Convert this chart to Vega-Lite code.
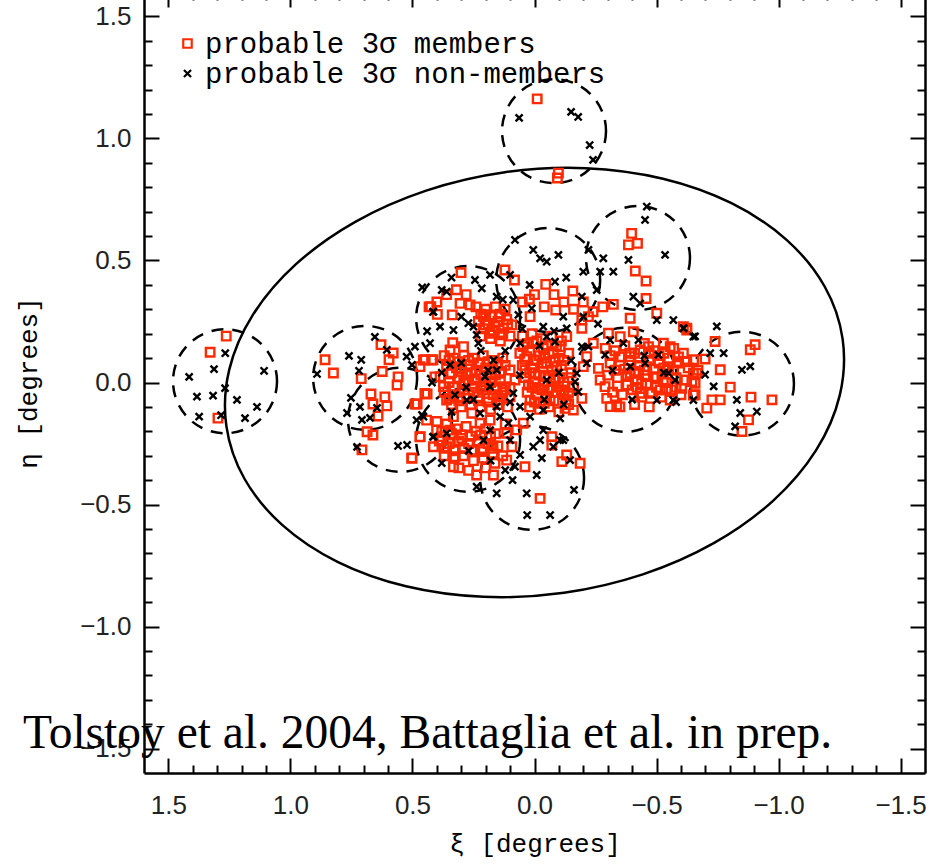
{
  "$schema": "https://vega.github.io/schema/vega-lite/v6.json",
  "width": 781,
  "height": 781,
  "autosize": "none",
  "padding": {"left": 144, "top": -8, "right": 12, "bottom": 91},
  "background": "white",
  "datasets": {
    "ellipse": [
      {"t":0,"x":1.2626,"y":-0.1775},{"t":15,"x":1.2509,"y":0.0516},{"t":30,"x":1.154,"y":0.2771},{"t":45,"x":0.9784,"y":0.4837},
      {"t":60,"x":0.7362,"y":0.6574},{"t":75,"x":0.4438,"y":0.7863},{"t":90,"x":0.1211,"y":0.8616},{"t":105,"x":-0.2098,"y":0.8781},
      {"t":120,"x":-0.5264,"y":0.835},{"t":135,"x":-0.8072,"y":0.7347},{"t":150,"x":-1.0328,"y":0.5845},{"t":165,"x":-1.1883,"y":0.3944},
      {"t":180,"x":-1.2626,"y":0.1775},{"t":195,"x":-1.2509,"y":-0.0516},{"t":210,"x":-1.154,"y":-0.2771},{"t":225,"x":-0.9784,"y":-0.4837},
      {"t":240,"x":-0.7362,"y":-0.6574},{"t":255,"x":-0.4438,"y":-0.7863},{"t":270,"x":-0.1211,"y":-0.8616},{"t":285,"x":0.2098,"y":-0.8781},
      {"t":300,"x":0.5264,"y":-0.835},{"t":315,"x":0.8072,"y":-0.7347},{"t":330,"x":1.0328,"y":-0.5845},{"t":345,"x":1.1883,"y":-0.3944}
    ],
    "fields": [
      {"x":1.268,"y":0.005},{"x":-0.08,"y":1.03},{"x":0.694,"y":0.019},{"x":0.551,"y":-0.153},{"x":0.272,"y":0.264},
      {"x":-0.056,"y":0.42},{"x":-0.424,"y":0.51},{"x":-0.371,"y":0.011},{"x":-0.85,"y":-0.005},{"x":0.01,"y":-0.391},{"x":0.272,"y":-0.235}
    ],
    "stars": [
      {"x":1.263,"y":0.19,"t":"m"},{"x":1.329,"y":0.124,"t":"m"},{"x":1.297,"y":-0.146,"t":"m"},
      {"x":-0.011,"y":1.162,"t":"m"},{"x":-0.098,"y":0.858,"t":"m"},{"x":-0.094,"y":0.838,"t":"m"},
      {"x":0.858,"y":0.093,"t":"m"},{"x":0.824,"y":0.039,"t":"m"},{"x":0.71,"y":0.016,"t":"m"},{"x":0.624,"y":0.045,"t":"m"},{"x":0.629,"y":0.155,"t":"m"},{"x":0.579,"y":0.121,"t":"m"},{"x":0.596,"y":0.093,"t":"m"},{"x":0.563,"y":-0.01,"t":"m"},{"x":0.559,"y":0.023,"t":"m"},{"x":0.67,"y":-0.047,"t":"m"},{"x":0.613,"y":-0.059,"t":"m"},{"x":0.605,"y":-0.096,"t":"m"},{"x":0.662,"y":-0.088,"t":"m"},{"x":0.641,"y":-0.137,"t":"m"},{"x":0.686,"y":-0.202,"t":"m"},{"x":0.662,"y":-0.215,"t":"m"},{"x":0.707,"y":-0.276,"t":"m"},{"x":0.502,"y":-0.309,"t":"m"},{"x":0.469,"y":-0.223,"t":"m"},{"x":0.481,"y":-0.088,"t":"m"},{"x":0.44,"y":-0.047,"t":"m"},{"x":0.448,"y":0.093,"t":"m"},{"x":0.416,"y":0.093,"t":"m"},{"x":0.408,"y":0.023,"t":"m"},{"x":0.432,"y":0.31,"t":"m"},
      {"x":0.301,"y":0.45,"t":"m"},{"x":0.121,"y":0.461,"t":"m"},{"x":0.082,"y":0.42,"t":"m"},{"x":-0.046,"y":0.402,"t":"m"},{"x":-0.157,"y":0.375,"t":"m"},{"x":-0.398,"y":0.611,"t":"m"},{"x":-0.385,"y":0.564,"t":"m"},{"x":-0.422,"y":0.57,"t":"m"},{"x":-0.413,"y":0.457,"t":"m"},{"x":-0.457,"y":0.416,"t":"m"},{"x":-0.323,"y":0.32,"t":"m"},{"x":-0.457,"y":0.344,"t":"m"},
      {"x":0.425,"y":0.311,"t":"m"},{"x":0.398,"y":0.279,"t":"m"},{"x":0.337,"y":0.277,"t":"m"},{"x":0.305,"y":0.324,"t":"m"},{"x":0.264,"y":0.318,"t":"m"},{"x":0.2,"y":0.277,"t":"m"},
      {"x":0.209,"y":0.27,"t":"m"},{"x":0.175,"y":0.277,"t":"m"},{"x":0.141,"y":0.27,"t":"m"},{"x":0.114,"y":0.258,"t":"m"},{"x":0.203,"y":0.236,"t":"m"},{"x":0.162,"y":0.229,"t":"m"},{"x":0.127,"y":0.222,"t":"m"},{"x":0.093,"y":0.236,"t":"m"},{"x":0.182,"y":0.202,"t":"m"},{"x":0.141,"y":0.195,"t":"m"},
      {"x":0.021,"y":0.341,"t":"m"},{"x":0.018,"y":0.27,"t":"m"},{"x":-0.087,"y":0.297,"t":"m"},{"x":-0.194,"y":0.256,"t":"m"},{"x":-0.194,"y":0.222,"t":"m"},{"x":-0.221,"y":0.27,"t":"m"},{"x":0.335,"y":0.163,"t":"m"},
      {"x":0.387,"y":0.024,"t":"m"},{"x":0.346,"y":0.038,"t":"m"},{"x":0.305,"y":0.058,"t":"m"},{"x":0.264,"y":0.072,"t":"m"},{"x":0.223,"y":0.079,"t":"m"},{"x":0.182,"y":0.051,"t":"m"},{"x":0.141,"y":0.038,"t":"m"},{"x":0.1,"y":0.051,"t":"m"},{"x":0.373,"y":-0.017,"t":"m"},{"x":0.332,"y":-0.017,"t":"m"},{"x":0.285,"y":-0.003,"t":"m"},{"x":0.244,"y":0.01,"t":"m"},{"x":0.203,"y":0.003,"t":"m"},{"x":0.162,"y":-0.017,"t":"m"},{"x":0.121,"y":-0.017,"t":"m"},{"x":0.08,"y":0.01,"t":"m"},{"x":0.36,"y":-0.072,"t":"m"},{"x":0.312,"y":-0.058,"t":"m"},{"x":0.271,"y":-0.051,"t":"m"},{"x":0.23,"y":-0.058,"t":"m"},{"x":0.189,"y":-0.065,"t":"m"},{"x":0.141,"y":-0.072,"t":"m"},{"x":0.1,"y":-0.058,"t":"m"},{"x":0.455,"y":0.092,"t":"m"},{"x":0.421,"y":0.092,"t":"m"},{"x":0.469,"y":0.065,"t":"m"},{"x":0.449,"y":-0.045,"t":"m"},{"x":0.49,"y":-0.088,"t":"m"},{"x":0.346,"y":0.133,"t":"m"},{"x":0.291,"y":0.147,"t":"m"},
      {"x":0.046,"y":0.147,"t":"m"},{"x":0.005,"y":0.161,"t":"m"},{"x":-0.036,"y":0.14,"t":"m"},{"x":-0.077,"y":0.126,"t":"m"},{"x":0.032,"y":0.106,"t":"m"},{"x":-0.009,"y":0.092,"t":"m"},{"x":-0.05,"y":0.079,"t":"m"},{"x":-0.091,"y":0.065,"t":"m"},{"x":0.039,"y":0.051,"t":"m"},{"x":-0.002,"y":0.038,"t":"m"},{"x":-0.043,"y":0.024,"t":"m"},{"x":-0.084,"y":0.01,"t":"m"},{"x":0.025,"y":-0.01,"t":"m"},{"x":-0.016,"y":-0.024,"t":"m"},{"x":-0.057,"y":-0.031,"t":"m"},{"x":-0.098,"y":-0.017,"t":"m"},{"x":0.018,"y":-0.072,"t":"m"},{"x":-0.023,"y":-0.085,"t":"m"},{"x":-0.064,"y":-0.072,"t":"m"},{"x":-0.139,"y":-0.044,"t":"m"},{"x":-0.125,"y":-0.106,"t":"m"},{"x":-0.159,"y":-0.113,"t":"m"},{"x":-0.194,"y":-0.065,"t":"m"},{"x":-0.105,"y":0.147,"t":"m"},{"x":-0.132,"y":0.188,"t":"m"},
      {"x":-0.269,"y":0.01,"t":"m"},{"x":-0.289,"y":-0.017,"t":"m"},{"x":-0.296,"y":-0.065,"t":"m"},{"x":-0.31,"y":-0.099,"t":"m"},{"x":-0.337,"y":-0.092,"t":"m"},{"x":-0.303,"y":0.202,"t":"m"},{"x":-0.351,"y":0.188,"t":"m"},{"x":-0.392,"y":0.263,"t":"m"},{"x":-0.405,"y":0.208,"t":"m"},{"x":-0.357,"y":0.106,"t":"m"},{"x":-0.392,"y":0.106,"t":"m"},{"x":-0.433,"y":0.133,"t":"m"},{"x":-0.467,"y":0.147,"t":"m"},{"x":-0.501,"y":0.284,"t":"m"},{"x":-0.528,"y":0.161,"t":"m"},{"x":-0.556,"y":0.147,"t":"m"},{"x":-0.59,"y":0.085,"t":"m"},{"x":-0.624,"y":0.085,"t":"m"},{"x":-0.651,"y":0.038,"t":"m"},{"x":-0.658,"y":-0.003,"t":"m"},{"x":-0.61,"y":0.229,"t":"m"},{"x":-0.624,"y":0.215,"t":"m"},{"x":-0.392,"y":0.038,"t":"m"},{"x":-0.426,"y":0.038,"t":"m"},{"x":-0.46,"y":0.065,"t":"m"},{"x":-0.487,"y":0.024,"t":"m"},{"x":-0.528,"y":0.01,"t":"m"},{"x":-0.542,"y":0.051,"t":"m"},{"x":-0.433,"y":-0.044,"t":"m"},{"x":-0.474,"y":-0.044,"t":"m"},{"x":-0.515,"y":-0.031,"t":"m"},{"x":-0.556,"y":-0.072,"t":"m"},{"x":-0.603,"y":-0.024,"t":"m"},{"x":-0.651,"y":-0.051,"t":"m"},{"x":-0.439,"y":-0.003,"t":"m"},{"x":-0.378,"y":-0.01,"t":"m"},{"x":-0.262,"y":0.058,"t":"m"},{"x":-0.214,"y":0.106,"t":"m"},{"x":-0.241,"y":0.161,"t":"m"},{"x":-0.2,"y":0.065,"t":"m"},
      {"x":0.503,"y":-0.311,"t":"m"},{"x":0.469,"y":-0.222,"t":"m"},{"x":0.442,"y":-0.154,"t":"m"},{"x":0.401,"y":-0.195,"t":"m"},{"x":0.414,"y":-0.263,"t":"m"},{"x":0.38,"y":-0.222,"t":"m"},{"x":0.36,"y":-0.263,"t":"m"},{"x":0.346,"y":-0.195,"t":"m"},{"x":0.332,"y":-0.14,"t":"m"},{"x":0.326,"y":-0.304,"t":"m"},{"x":0.332,"y":-0.345,"t":"m"},{"x":0.298,"y":-0.229,"t":"m"},{"x":0.291,"y":-0.27,"t":"m"},{"x":0.257,"y":-0.277,"t":"m"},{"x":0.216,"y":-0.283,"t":"m"},{"x":0.237,"y":-0.379,"t":"m"},{"x":0.175,"y":-0.27,"t":"m"},{"x":0.162,"y":-0.331,"t":"m"},{"x":0.168,"y":-0.379,"t":"m"},{"x":0.114,"y":-0.208,"t":"m"},{"x":0.093,"y":-0.263,"t":"m"},{"x":0.114,"y":-0.318,"t":"m"},{"x":0.073,"y":-0.194,"t":"m"},{"x":0.046,"y":-0.167,"t":"m"},{"x":0.257,"y":-0.126,"t":"m"},{"x":0.223,"y":-0.167,"t":"m"},{"x":0.182,"y":-0.154,"t":"m"},{"x":0.039,"y":-0.345,"t":"m"},{"x":-0.023,"y":-0.475,"t":"m"},{"x":-0.071,"y":-0.222,"t":"m"},{"x":-0.132,"y":-0.297,"t":"m"},{"x":-0.187,"y":-0.331,"t":"m"},{"x":-0.112,"y":-0.324,"t":"m"},{"x":-0.071,"y":-0.256,"t":"m"},
      {"x":-0.624,"y":0.223,"t":"m"},{"x":-0.74,"y":0.168,"t":"m"},{"x":-0.884,"y":0.134,"t":"m"},{"x":-0.904,"y":0.155,"t":"m"},{"x":-0.617,"y":0.086,"t":"m"},{"x":-0.652,"y":0.093,"t":"m"},{"x":-0.699,"y":0.096,"t":"m"},{"x":-0.761,"y":0.052,"t":"m"},{"x":-0.665,"y":0.038,"t":"m"},{"x":-0.645,"y":0.004,"t":"m"},{"x":-0.802,"y":-0.019,"t":"m"},{"x":-0.658,"y":-0.05,"t":"m"},{"x":-0.727,"y":-0.071,"t":"m"},{"x":-0.761,"y":-0.071,"t":"m"},{"x":-0.706,"y":-0.105,"t":"m"},{"x":-0.887,"y":-0.06,"t":"m"},{"x":-0.973,"y":-0.071,"t":"m"},{"x":-0.877,"y":-0.153,"t":"m"},{"x":-0.85,"y":-0.201,"t":"m"},
      {"x":0.37,"y":0.11,"t":"m"},{"x":0.33,"y":0.10,"t":"m"},{"x":0.29,"y":0.11,"t":"m"},{"x":0.25,"y":0.10,"t":"m"},{"x":0.21,"y":0.11,"t":"m"},{"x":0.17,"y":0.09,"t":"m"},{"x":0.13,"y":0.10,"t":"m"},
      {"x":0.36,"y":0.07,"t":"m"},{"x":0.32,"y":0.06,"t":"m"},{"x":0.28,"y":0.03,"t":"m"},{"x":0.24,"y":0.05,"t":"m"},{"x":0.20,"y":0.06,"t":"m"},{"x":0.16,"y":0.03,"t":"m"},{"x":0.12,"y":0.07,"t":"m"},
      {"x":0.35,"y":0.00,"t":"m"},{"x":0.31,"y":0.02,"t":"m"},{"x":0.27,"y":0.01,"t":"m"},{"x":0.22,"y":-0.02,"t":"m"},{"x":0.18,"y":0.00,"t":"m"},{"x":0.14,"y":0.01,"t":"m"},{"x":0.10,"y":-0.02,"t":"m"},
      {"x":0.37,"y":-0.04,"t":"m"},{"x":0.33,"y":-0.05,"t":"m"},{"x":0.29,"y":-0.03,"t":"m"},{"x":0.25,"y":-0.04,"t":"m"},{"x":0.21,"y":-0.03,"t":"m"},{"x":0.17,"y":-0.05,"t":"m"},{"x":0.13,"y":-0.04,"t":"m"},
      {"x":0.34,"y":-0.09,"t":"m"},{"x":0.30,"y":-0.10,"t":"m"},{"x":0.26,"y":-0.09,"t":"m"},{"x":0.22,"y":-0.10,"t":"m"},{"x":0.18,"y":-0.11,"t":"m"},{"x":0.15,"y":-0.09,"t":"m"},{"x":0.11,"y":-0.10,"t":"m"},
      {"x":0.05,"y":0.19,"t":"m"},{"x":0.01,"y":0.20,"t":"m"},{"x":-0.03,"y":0.18,"t":"m"},{"x":-0.07,"y":0.19,"t":"m"},{"x":-0.11,"y":0.17,"t":"m"},
      {"x":0.06,"y":0.12,"t":"m"},{"x":0.02,"y":0.13,"t":"m"},{"x":-0.02,"y":0.11,"t":"m"},{"x":-0.06,"y":0.12,"t":"m"},{"x":-0.10,"y":0.10,"t":"m"},{"x":-0.14,"y":0.12,"t":"m"},
      {"x":0.05,"y":0.07,"t":"m"},{"x":0.01,"y":0.06,"t":"m"},{"x":-0.03,"y":0.08,"t":"m"},{"x":-0.07,"y":0.05,"t":"m"},{"x":-0.11,"y":0.07,"t":"m"},{"x":-0.15,"y":0.04,"t":"m"},
      {"x":0.04,"y":0.02,"t":"m"},{"x":0.00,"y":0.00,"t":"m"},{"x":-0.04,"y":-0.01,"t":"m"},{"x":-0.08,"y":0.02,"t":"m"},{"x":-0.12,"y":0.00,"t":"m"},{"x":-0.16,"y":-0.02,"t":"m"},
      {"x":0.03,"y":-0.04,"t":"m"},{"x":-0.01,"y":-0.05,"t":"m"},{"x":-0.05,"y":-0.06,"t":"m"},{"x":-0.09,"y":-0.04,"t":"m"},{"x":-0.13,"y":-0.07,"t":"m"},
      {"x":0.02,"y":-0.10,"t":"m"},{"x":-0.02,"y":-0.11,"t":"m"},{"x":-0.06,"y":-0.10,"t":"m"},{"x":-0.10,"y":-0.12,"t":"m"},{"x":-0.14,"y":-0.09,"t":"m"},
      {"x":0.24,"y":0.31,"t":"m"},{"x":0.20,"y":0.30,"t":"m"},{"x":0.16,"y":0.31,"t":"m"},{"x":0.12,"y":0.30,"t":"m"},{"x":0.23,"y":0.25,"t":"m"},{"x":0.19,"y":0.24,"t":"m"},{"x":0.15,"y":0.25,"t":"m"},{"x":0.11,"y":0.24,"t":"m"},{"x":0.22,"y":0.19,"t":"m"},{"x":0.18,"y":0.18,"t":"m"},{"x":0.14,"y":0.17,"t":"m"},{"x":0.10,"y":0.19,"t":"m"},
      {"x":0.40,"y":-0.16,"t":"m"},{"x":0.36,"y":-0.17,"t":"m"},{"x":0.32,"y":-0.19,"t":"m"},{"x":0.28,"y":-0.18,"t":"m"},{"x":0.24,"y":-0.20,"t":"m"},{"x":0.20,"y":-0.19,"t":"m"},{"x":0.16,"y":-0.21,"t":"m"},{"x":0.12,"y":-0.17,"t":"m"},
      {"x":0.39,"y":-0.24,"t":"m"},{"x":0.35,"y":-0.25,"t":"m"},{"x":0.31,"y":-0.24,"t":"m"},{"x":0.27,"y":-0.25,"t":"m"},{"x":0.23,"y":-0.24,"t":"m"},{"x":0.19,"y":-0.25,"t":"m"},{"x":0.15,"y":-0.26,"t":"m"},
      {"x":0.37,"y":-0.30,"t":"m"},{"x":0.33,"y":-0.31,"t":"m"},{"x":0.29,"y":-0.30,"t":"m"},{"x":0.25,"y":-0.32,"t":"m"},{"x":0.21,"y":-0.31,"t":"m"},{"x":0.17,"y":-0.29,"t":"m"},{"x":0.13,"y":-0.30,"t":"m"},
      {"x":0.31,"y":-0.35,"t":"m"},{"x":0.27,"y":-0.36,"t":"m"},{"x":0.20,"y":-0.35,"t":"m"},
      {"x":-0.29,"y":0.14,"t":"m"},{"x":-0.33,"y":0.13,"t":"m"},{"x":-0.37,"y":0.15,"t":"m"},{"x":-0.41,"y":0.12,"t":"m"},{"x":-0.45,"y":0.16,"t":"m"},{"x":-0.49,"y":0.13,"t":"m"},{"x":-0.53,"y":0.12,"t":"m"},{"x":-0.57,"y":0.14,"t":"m"},{"x":-0.61,"y":0.12,"t":"m"},
      {"x":-0.31,"y":0.08,"t":"m"},{"x":-0.35,"y":0.07,"t":"m"},{"x":-0.39,"y":0.09,"t":"m"},{"x":-0.43,"y":0.07,"t":"m"},{"x":-0.47,"y":0.09,"t":"m"},{"x":-0.51,"y":0.08,"t":"m"},{"x":-0.55,"y":0.06,"t":"m"},{"x":-0.59,"y":0.08,"t":"m"},{"x":-0.63,"y":0.06,"t":"m"},{"x":-0.67,"y":0.05,"t":"m"},
      {"x":-0.30,"y":0.03,"t":"m"},{"x":-0.34,"y":0.02,"t":"m"},{"x":-0.38,"y":0.03,"t":"m"},{"x":-0.42,"y":0.01,"t":"m"},{"x":-0.46,"y":0.03,"t":"m"},{"x":-0.50,"y":0.02,"t":"m"},{"x":-0.54,"y":0.00,"t":"m"},{"x":-0.58,"y":0.02,"t":"m"},{"x":-0.62,"y":0.01,"t":"m"},
      {"x":-0.32,"y":-0.04,"t":"m"},{"x":-0.36,"y":-0.05,"t":"m"},{"x":-0.40,"y":-0.03,"t":"m"},{"x":-0.44,"y":-0.06,"t":"m"},{"x":-0.48,"y":-0.04,"t":"m"},{"x":-0.52,"y":-0.06,"t":"m"},{"x":-0.56,"y":-0.03,"t":"m"},{"x":-0.60,"y":-0.05,"t":"m"},
      {"x":-0.35,"y":-0.10,"t":"m"},{"x":-0.41,"y":-0.09,"t":"m"},{"x":-0.47,"y":-0.10,"t":"m"},
      {"x":0.40,"y":0.33,"t":"m"},{"x":0.36,"y":0.36,"t":"m"},{"x":0.32,"y":0.38,"t":"m"},{"x":0.28,"y":0.36,"t":"m"},{"x":0.05,"y":0.33,"t":"m"},{"x":0.00,"y":0.36,"t":"m"},{"x":-0.04,"y":0.31,"t":"m"},{"x":-0.08,"y":0.36,"t":"m"},{"x":-0.12,"y":0.33,"t":"m"},{"x":-0.16,"y":0.30,"t":"m"},{"x":-0.20,"y":0.33,"t":"m"},{"x":-0.24,"y":0.29,"t":"m"},{"x":-0.28,"y":0.31,"t":"m"},
      {"x":0.35,"y":0.09,"t":"m"},{"x":0.31,"y":0.085,"t":"m"},{"x":0.27,"y":0.09,"t":"m"},{"x":0.23,"y":0.08,"t":"m"},{"x":0.19,"y":0.085,"t":"m"},{"x":0.15,"y":0.08,"t":"m"},
      {"x":0.34,"y":0.04,"t":"m"},{"x":0.30,"y":0.045,"t":"m"},{"x":0.26,"y":0.04,"t":"m"},{"x":0.22,"y":0.03,"t":"m"},{"x":0.18,"y":0.04,"t":"m"},{"x":0.14,"y":0.045,"t":"m"},
      {"x":0.33,"y":-0.02,"t":"m"},{"x":0.29,"y":0.00,"t":"m"},{"x":0.25,"y":-0.015,"t":"m"},{"x":0.20,"y":-0.01,"t":"m"},{"x":0.16,"y":-0.03,"t":"m"},{"x":0.12,"y":-0.03,"t":"m"},
      {"x":0.35,"y":-0.065,"t":"m"},{"x":0.31,"y":-0.075,"t":"m"},{"x":0.27,"y":-0.065,"t":"m"},{"x":0.23,"y":-0.075,"t":"m"},{"x":0.19,"y":-0.08,"t":"m"},{"x":0.15,"y":-0.06,"t":"m"},
      {"x":0.03,"y":0.16,"t":"m"},{"x":-0.01,"y":0.17,"t":"m"},{"x":-0.05,"y":0.15,"t":"m"},{"x":-0.09,"y":0.15,"t":"m"},{"x":0.04,"y":0.095,"t":"m"},{"x":0.00,"y":0.09,"t":"m"},{"x":-0.04,"y":0.10,"t":"m"},{"x":-0.08,"y":0.085,"t":"m"},{"x":-0.12,"y":0.09,"t":"m"},{"x":0.02,"y":0.04,"t":"m"},{"x":-0.02,"y":0.03,"t":"m"},{"x":-0.06,"y":0.03,"t":"m"},{"x":-0.10,"y":0.02,"t":"m"},{"x":-0.14,"y":0.02,"t":"m"},{"x":0.01,"y":-0.02,"t":"m"},{"x":-0.03,"y":-0.03,"t":"m"},{"x":-0.07,"y":-0.02,"t":"m"},{"x":-0.11,"y":-0.03,"t":"m"},{"x":0.00,"y":-0.08,"t":"m"},{"x":-0.04,"y":-0.085,"t":"m"},{"x":-0.08,"y":-0.075,"t":"m"},{"x":-0.12,"y":-0.05,"t":"m"},
      {"x":0.38,"y":-0.20,"t":"m"},{"x":0.34,"y":-0.21,"t":"m"},{"x":0.30,"y":-0.215,"t":"m"},{"x":0.26,"y":-0.22,"t":"m"},{"x":0.22,"y":-0.215,"t":"m"},{"x":0.18,"y":-0.22,"t":"m"},{"x":0.37,"y":-0.27,"t":"m"},{"x":0.33,"y":-0.28,"t":"m"},{"x":0.29,"y":-0.27,"t":"m"},{"x":0.25,"y":-0.28,"t":"m"},{"x":0.21,"y":-0.27,"t":"m"},{"x":0.17,"y":-0.26,"t":"m"},
      {"x":-0.31,"y":0.11,"t":"m"},{"x":-0.35,"y":0.105,"t":"m"},{"x":-0.39,"y":0.12,"t":"m"},{"x":-0.43,"y":0.10,"t":"m"},{"x":-0.47,"y":0.12,"t":"m"},{"x":-0.51,"y":0.11,"t":"m"},{"x":-0.55,"y":0.10,"t":"m"},{"x":-0.59,"y":0.105,"t":"m"},{"x":-0.33,"y":0.05,"t":"m"},{"x":-0.37,"y":0.055,"t":"m"},{"x":-0.41,"y":0.045,"t":"m"},{"x":-0.45,"y":0.05,"t":"m"},{"x":-0.49,"y":0.055,"t":"m"},{"x":-0.53,"y":0.06,"t":"m"},{"x":-0.57,"y":0.05,"t":"m"},{"x":-0.34,"y":-0.015,"t":"m"},{"x":-0.38,"y":-0.01,"t":"m"},{"x":-0.42,"y":-0.02,"t":"m"},{"x":-0.46,"y":-0.01,"t":"m"},{"x":-0.50,"y":-0.02,"t":"m"},{"x":-0.54,"y":-0.025,"t":"m"},{"x":-0.58,"y":-0.02,"t":"m"},
      {"x":0.22,"y":0.28,"t":"m"},{"x":0.18,"y":0.27,"t":"m"},{"x":0.14,"y":0.28,"t":"m"},{"x":0.21,"y":0.22,"t":"m"},{"x":0.17,"y":0.21,"t":"m"},{"x":0.13,"y":0.20,"t":"m"},
      {"x":1.267,"y":0.12,"t":"n"},{"x":1.313,"y":0.055,"t":"n"},{"x":1.415,"y":0.023,"t":"n"},{"x":1.383,"y":-0.058,"t":"n"},{"x":1.317,"y":-0.054,"t":"n"},{"x":1.374,"y":-0.14,"t":"n"},{"x":1.284,"y":-0.134,"t":"n"},{"x":1.268,"y":-0.023,"t":"n"},{"x":1.219,"y":-0.071,"t":"n"},{"x":1.186,"y":-0.146,"t":"n"},{"x":1.137,"y":-0.1,"t":"n"},{"x":1.108,"y":0.048,"t":"n"},
      {"x":0.891,"y":0.035,"t":"n"},{"x":0.76,"y":0.109,"t":"n"},{"x":0.71,"y":0.093,"t":"n"},{"x":0.719,"y":0.048,"t":"n"},{"x":0.752,"y":-0.063,"t":"n"},{"x":0.715,"y":-0.1,"t":"n"},{"x":0.768,"y":-0.125,"t":"n"},{"x":0.707,"y":-0.153,"t":"n"},{"x":0.674,"y":-0.145,"t":"n"},{"x":0.645,"y":-0.104,"t":"n"},{"x":0.654,"y":0.187,"t":"n"},{"x":0.605,"y":0.134,"t":"n"},{"x":0.502,"y":0.072,"t":"n"},{"x":0.461,"y":-0.133,"t":"n"},{"x":0.522,"y":-0.256,"t":"n"},{"x":0.559,"y":-0.26,"t":"n"},{"x":0.727,"y":-0.264,"t":"n"},{"x":0.416,"y":0.289,"t":"n"},{"x":0.416,"y":-0.223,"t":"n"},
      {"x":-0.46,"y":0.721,"t":"n"},{"x":-0.453,"y":0.666,"t":"n"},{"x":-0.535,"y":0.523,"t":"n"},{"x":-0.385,"y":0.502,"t":"n"},{"x":-0.282,"y":0.509,"t":"n"},{"x":-0.221,"y":0.543,"t":"n"},{"x":-0.323,"y":0.454,"t":"n"},{"x":-0.269,"y":0.454,"t":"n"},{"x":-0.2,"y":0.454,"t":"n"},{"x":0.08,"y":0.584,"t":"n"},{"x":0.005,"y":0.543,"t":"n"},{"x":-0.023,"y":0.509,"t":"n"},{"x":-0.05,"y":0.495,"t":"n"},{"x":-0.098,"y":0.523,"t":"n"},{"x":0.1,"y":0.441,"t":"n"},{"x":0.182,"y":0.441,"t":"n"},{"x":0.216,"y":0.386,"t":"n"},{"x":0.244,"y":0.42,"t":"n"},{"x":0.38,"y":0.379,"t":"n"},{"x":0.36,"y":0.372,"t":"n"},{"x":0.155,"y":0.352,"t":"n"},{"x":0.087,"y":0.338,"t":"n"},{"x":0.011,"y":0.304,"t":"n"},{"x":-0.084,"y":0.413,"t":"n"},{"x":-0.194,"y":0.352,"t":"n"},{"x":-0.255,"y":0.379,"t":"n"},{"x":-0.405,"y":0.352,"t":"n"},{"x":-0.433,"y":0.324,"t":"n"},{"x":-0.501,"y":0.256,"t":"n"},{"x":-0.569,"y":0.256,"t":"n"},{"x":-0.61,"y":0.222,"t":"n"},{"x":-0.651,"y":0.188,"t":"n"},{"x":0.414,"y":0.29,"t":"n"},{"x":0.387,"y":0.229,"t":"n"},{"x":0.332,"y":0.215,"t":"n"},{"x":0.271,"y":0.243,"t":"n"},{"x":0.25,"y":0.229,"t":"n"},{"x":0.237,"y":0.195,"t":"n"},{"x":0.23,"y":0.161,"t":"n"},{"x":0.428,"y":0.161,"t":"n"},{"x":0.49,"y":0.147,"t":"n"},{"x":0.524,"y":0.106,"t":"n"},{"x":0.066,"y":0.277,"t":"n"},{"x":0.059,"y":0.161,"t":"n"},{"x":-0.036,"y":0.229,"t":"n"},{"x":-0.05,"y":0.188,"t":"n"},{"x":-0.084,"y":0.167,"t":"n"},{"x":-0.118,"y":0.27,"t":"n"},{"x":-0.132,"y":0.222,"t":"n"},{"x":-0.194,"y":0.147,"t":"n"},{"x":-0.214,"y":0.079,"t":"n"},{"x":-0.173,"y":0.038,"t":"n"},{"x":-0.166,"y":0.003,"t":"n"},{"x":-0.18,"y":-0.038,"t":"n"},{"x":-0.221,"y":0.147,"t":"n"},{"x":-0.289,"y":0.113,"t":"n"},{"x":-0.31,"y":0.174,"t":"n"},{"x":-0.364,"y":0.161,"t":"n"},{"x":-0.426,"y":0.174,"t":"n"},{"x":-0.392,"y":0.065,"t":"n"},{"x":-0.453,"y":0.079,"t":"n"},{"x":-0.508,"y":0.113,"t":"n"},{"x":-0.549,"y":0.038,"t":"n"},{"x":-0.576,"y":0.01,"t":"n"},{"x":-0.501,"y":-0.072,"t":"n"},{"x":-0.569,"y":-0.072,"t":"n"},{"x":-0.651,"y":-0.072,"t":"n"},{"x":0.346,"y":0.072,"t":"n"},{"x":0.168,"y":0.092,"t":"n"},{"x":0.155,"y":0.051,"t":"n"},{"x":0.203,"y":0.024,"t":"n"},{"x":0.182,"y":-0.017,"t":"n"},{"x":0.087,"y":-0.044,"t":"n"},{"x":0.326,"y":-0.051,"t":"n"},{"x":0.278,"y":-0.072,"t":"n"},{"x":0.223,"y":-0.126,"t":"n"},{"x":0.155,"y":-0.099,"t":"n"},{"x":0.141,"y":-0.14,"t":"n"},{"x":0.107,"y":-0.167,"t":"n"},{"x":0.182,"y":-0.195,"t":"n"},{"x":0.1,"y":-0.236,"t":"n"},{"x":0.209,"y":-0.236,"t":"n"},{"x":0.414,"y":-0.222,"t":"n"},{"x":0.455,"y":-0.14,"t":"n"},{"x":0.483,"y":-0.154,"t":"n"},{"x":0.36,"y":-0.208,"t":"n"},{"x":0.08,"y":-0.345,"t":"n"},{"x":0.005,"y":-0.263,"t":"n"},{"x":-0.023,"y":-0.236,"t":"n"},{"x":-0.036,"y":-0.195,"t":"n"},{"x":-0.077,"y":-0.263,"t":"n"},{"x":-0.118,"y":-0.236,"t":"n"},{"x":-0.009,"y":-0.379,"t":"n"},{"x":0.032,"y":-0.454,"t":"n"},{"x":0.155,"y":-0.454,"t":"n"},{"x":0.237,"y":-0.427,"t":"n"},{"x":-0.036,"y":-0.113,"t":"n"},{"x":-0.105,"y":-0.147,"t":"n"},{"x":0.018,"y":-0.14,"t":"n"},{"x":0.059,"y":-0.099,"t":"n"},{"x":-0.05,"y":0.01,"t":"n"},
      {"x":-0.611,"y":0.223,"t":"n"},{"x":-0.658,"y":0.189,"t":"n"},{"x":-0.747,"y":0.23,"t":"n"},{"x":-0.72,"y":0.12,"t":"n"},{"x":-0.775,"y":0.12,"t":"n"},{"x":-0.699,"y":0.032,"t":"n"},{"x":-0.734,"y":-0.016,"t":"n"},{"x":-0.85,"y":0.052,"t":"n"},{"x":-0.884,"y":0.066,"t":"n"},{"x":-0.829,"y":-0.071,"t":"n"},{"x":-0.843,"y":-0.125,"t":"n"},{"x":-0.911,"y":-0.119,"t":"n"},{"x":-0.822,"y":-0.18,"t":"n"},
      {"x":0.063,"y":1.084,"t":"n"},{"x":-0.15,"y":1.109,"t":"n"},{"x":-0.179,"y":1.088,"t":"n"},{"x":-0.226,"y":0.973,"t":"n"},{"x":-0.24,"y":0.912,"t":"n"},
      {"x":0.03,"y":-0.543,"t":"n"},{"x":-0.064,"y":-0.543,"t":"n"},{"x":-0.162,"y":-0.44,"t":"n"},{"x":0.12,"y":-0.359,"t":"n"},{"x":0.059,"y":-0.297,"t":"n"},{"x":-0.146,"y":-0.318,"t":"n"},{"x":-0.105,"y":-0.236,"t":"n"},
      {"x":0.30,"y":0.08,"t":"n"},{"x":0.22,"y":0.13,"t":"n"},{"x":0.12,"y":0.13,"t":"n"},{"x":0.06,"y":0.03,"t":"n"},{"x":0.28,"y":-0.02,"t":"n"},{"x":0.19,"y":0.05,"t":"n"},{"x":0.10,"y":-0.08,"t":"n"},{"x":0.25,"y":-0.07,"t":"n"},{"x":0.34,"y":-0.12,"t":"n"},{"x":0.05,"y":0.22,"t":"n"},{"x":-0.02,"y":0.15,"t":"n"},{"x":-0.10,"y":0.04,"t":"n"},{"x":-0.04,"y":-0.07,"t":"n"},{"x":-0.12,"y":-0.09,"t":"n"},{"x":-0.08,"y":0.21,"t":"n"},{"x":-0.15,"y":0.09,"t":"n"},{"x":0.38,"y":0.04,"t":"n"},{"x":0.42,"y":0.00,"t":"n"},{"x":0.44,"y":0.21,"t":"n"},{"x":0.30,"y":0.27,"t":"n"},{"x":0.13,"y":0.34,"t":"n"},{"x":-0.26,"y":0.24,"t":"n"},{"x":-0.32,"y":0.05,"t":"n"},{"x":-0.45,"y":0.11,"t":"n"},{"x":-0.53,"y":0.04,"t":"n"},{"x":-0.40,"y":-0.07,"t":"n"},{"x":-0.58,"y":-0.08,"t":"n"},{"x":0.27,"y":-0.28,"t":"n"},{"x":0.18,"y":-0.32,"t":"n"},{"x":0.38,"y":-0.33,"t":"n"},{"x":-0.03,"y":-0.31,"t":"n"},{"x":0.09,"y":-0.40,"t":"n"},{"x":-0.20,"y":0.27,"t":"n"},{"x":0.02,"y":0.40,"t":"n"},{"x":-0.13,"y":0.43,"t":"n"},{"x":0.34,"y":0.43,"t":"n"},{"x":0.46,"y":0.39,"t":"n"}
    ]
  },
  "layer": [
    {
      "data": {"name": "ellipse"},
      "mark": {"type": "line", "interpolate": "cardinal-closed", "color": "black", "strokeWidth": 2.5, "clip": true},
      "encoding": {
        "x": {"field": "x", "type": "quantitative",
          "scale": {"domain": [-1.6, 1.6], "reverse": true, "nice": false, "zero": false},
          "axis": {"orient": "bottom", "title": "ξ [degrees]",
            "values": [-1.5,-1.4,-1.3,-1.2,-1.1,-1.0,-0.9,-0.8,-0.7,-0.6,-0.5,-0.4,-0.3,-0.2,-0.1,0,0.1,0.2,0.3,0.4,0.5,0.6,0.7,0.8,0.9,1.0,1.1,1.2,1.3,1.4,1.5],
            "tickSize": {"condition": {"test": "abs(datum.value*2 - round(datum.value*2)) < 0.01", "value": -15}, "value": -8},
            "labelExpr": "abs(datum.value*2 - round(datum.value*2)) < 0.01 ? format(datum.value, '.1f') : ''",
            "labelPadding": 34, "titleY": 78, "titleBaseline": "alphabetic"}},
        "y": {"field": "y", "type": "quantitative",
          "scale": {"domain": [-1.6, 1.6], "nice": false, "zero": false},
          "axis": {"orient": "left", "title": "η [degrees]",
            "values": [-1.5,-1.4,-1.3,-1.2,-1.1,-1.0,-0.9,-0.8,-0.7,-0.6,-0.5,-0.4,-0.3,-0.2,-0.1,0,0.1,0.2,0.3,0.4,0.5,0.6,0.7,0.8,0.9,1.0,1.1,1.2,1.3,1.4,1.5],
            "tickSize": {"condition": {"test": "abs(datum.value*2 - round(datum.value*2)) < 0.01", "value": -15}, "value": -8},
            "labelExpr": "abs(datum.value*2 - round(datum.value*2)) < 0.01 ? format(datum.value, '.1f') : ''",
            "labelPadding": 28, "titleX": -116, "titleBaseline": "middle"}},
        "order": {"field": "t", "type": "quantitative"}
      }
    },
    {
      "data": {"name": "fields"},
      "mark": {"type": "point", "shape": "circle", "filled": false, "color": "black", "strokeWidth": 2.5, "strokeDash": [12, 9], "size": 10816, "opacity": 1},
      "encoding": {
        "x": {"field": "x", "type": "quantitative",
          "scale": {"domain": [-1.6, 1.6], "reverse": true, "nice": false, "zero": false},
          "axis": {"orient": "top", "title": null, "labels": false,
            "values": [-1.5,-1.4,-1.3,-1.2,-1.1,-1.0,-0.9,-0.8,-0.7,-0.6,-0.5,-0.4,-0.3,-0.2,-0.1,0,0.1,0.2,0.3,0.4,0.5,0.6,0.7,0.8,0.9,1.0,1.1,1.2,1.3,1.4,1.5],
            "tickSize": {"condition": {"test": "abs(datum.value*2 - round(datum.value*2)) < 0.01", "value": -15}, "value": -8}}},
        "y": {"field": "y", "type": "quantitative",
          "scale": {"domain": [-1.6, 1.6], "nice": false, "zero": false},
          "axis": {"orient": "right", "title": null, "labels": false,
            "values": [-1.5,-1.4,-1.3,-1.2,-1.1,-1.0,-0.9,-0.8,-0.7,-0.6,-0.5,-0.4,-0.3,-0.2,-0.1,0,0.1,0.2,0.3,0.4,0.5,0.6,0.7,0.8,0.9,1.0,1.1,1.2,1.3,1.4,1.5],
            "tickSize": {"condition": {"test": "abs(datum.value*2 - round(datum.value*2)) < 0.01", "value": -15}, "value": -8}}}
      }
    },
    {
      "data": {"name": "stars"},
      "mark": {"type": "point", "filled": false, "strokeWidth": 2.4, "opacity": 1},
      "encoding": {
        "x": {"field": "x", "type": "quantitative", "axis": null},
        "y": {"field": "y", "type": "quantitative", "axis": null},
        "color": {"field": "t", "type": "nominal",
          "scale": {"domain": ["m", "n"], "range": ["#ff2a00", "#000000"]},
          "legend": {"orient": "none", "legendX": 29, "legendY": 37, "title": null,
            "labelExpr": "datum.label == 'm' ? 'probable 3σ members' : 'probable 3σ non-members'"}},
        "shape": {"field": "t", "type": "nominal",
          "scale": {"domain": ["m", "n"], "range": ["square", "M-1,-1L1,1M-1,1L1,-1"]},
          "legend": {"orient": "none", "legendX": 29, "legendY": 37, "title": null,
            "labelExpr": "datum.label == 'm' ? 'probable 3σ members' : 'probable 3σ non-members'"}},
        "size": {"field": "t", "type": "nominal",
          "scale": {"domain": ["m", "n"], "range": [72, 50]},
          "legend": {"orient": "none", "legendX": 29, "legendY": 37, "title": null,
            "labelExpr": "datum.label == 'm' ? 'probable 3σ members' : 'probable 3σ non-members'"}}
      }
    },
    {
      "data": {"values": [{}]},
      "mark": {"type": "text", "text": "Tolstoy et al. 2004, Battaglia et al. in prep.", "font": "Liberation Serif", "fontSize": 47.5, "align": "left", "baseline": "alphabetic", "color": "black"},
      "encoding": {
        "x": {"datum": 2.096, "type": "quantitative", "axis": null},
        "y": {"datum": -1.498, "type": "quantitative", "axis": null}
      }
    }
  ],
  "resolve": {"axis": {"x": "independent", "y": "independent"}},
  "config": {
    "view": {"stroke": null},
    "axis": {"grid": false, "domainColor": "black", "domainWidth": 2.5, "tickColor": "black", "tickWidth": 2,
      "labelFont": "Liberation Sans", "labelFontSize": 26, "labelColor": "#222222", "labelFlush": false, "labelOverlap": false, "labelBound": false,
      "titleFont": "Liberation Mono", "titleFontSize": 26, "titleFontWeight": "normal", "titleColor": "black"},
    "legend": {"labelFont": "Liberation Mono", "labelFontSize": 29, "labelColor": "black", "symbolStrokeWidth": 2.2, "rowPadding": 0, "labelOffset": 3, "labelLimit": 700}
  }
}
